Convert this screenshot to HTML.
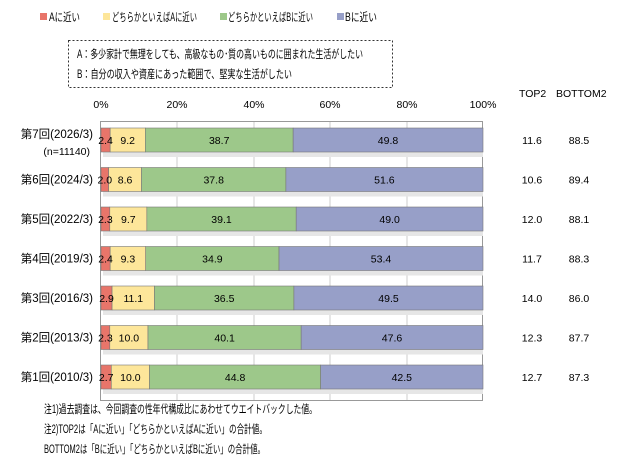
<!DOCTYPE html>
<html><head><meta charset="utf-8"><style>
body{margin:0;background:#fff;}
svg text{font-family:"Liberation Sans","Noto Sans CJK JP",sans-serif;font-size:10.5px;fill:#000;}
svg text.j{font-size:11.5px;}
.r rect.a{fill:#e8756a}.r rect.b{fill:#fde69a}.r rect.c{fill:#9dc88a}.r rect.d{fill:#979fc8}
.r rect{stroke:#777;stroke-width:0.6}
.r rect.s{fill:#e6e6e6;stroke:none}
</style></head><body>
<svg width="620" height="460" xmlns="http://www.w3.org/2000/svg">
<rect width="620" height="460" fill="#fff"/>
<rect x="40" y="13" width="7" height="7" fill="#e8756a"/>
<text class="j" x="49" y="21" textLength="31" lengthAdjust="spacingAndGlyphs">Aに近い</text>
<rect x="103" y="13" width="7" height="7" fill="#fde69a"/>
<text class="j" x="112" y="21" textLength="85" lengthAdjust="spacingAndGlyphs">どちらかといえばAに近い</text>
<rect x="220" y="13" width="7" height="7" fill="#9dc88a"/>
<text class="j" x="228" y="21" textLength="85" lengthAdjust="spacingAndGlyphs">どちらかといえばBに近い</text>
<rect x="337" y="13" width="7" height="7" fill="#979fc8"/>
<text class="j" x="345" y="21" textLength="32" lengthAdjust="spacingAndGlyphs">Bに近い</text>
<rect x="68.5" y="40.5" width="324" height="47" fill="none" stroke="#333" stroke-dasharray="2,2"/>
<text class="j" x="77" y="58" textLength="286" lengthAdjust="spacingAndGlyphs">A：多少家計で無理をしても、高級なもの･質の高いものに囲まれた生活がしたい</text>
<text class="j" x="77" y="78" textLength="215" lengthAdjust="spacingAndGlyphs">B：自分の収入や資産にあった範囲で、堅実な生活がしたい</text>
<text x="519" y="97">TOP2</text>
<text x="556" y="97">BOTTOM2</text>
<g text-anchor="middle">
<text x="101" y="108">0%</text><text x="177" y="108">20%</text><text x="254" y="108">40%</text><text x="330" y="108">60%</text><text x="407" y="108">80%</text><text x="483" y="108">100%</text>
</g>
<rect x="100.5" y="121.5" width="382" height="279" fill="#fff" stroke="#999"/>
<g stroke="#ccc">
<line x1="177" y1="122" x2="177" y2="400"/><line x1="254" y1="122" x2="254" y2="400"/><line x1="330" y1="122" x2="330" y2="400"/><line x1="407" y1="122" x2="407" y2="400"/>
</g>

<g class="r" transform="translate(0,140)">
<rect class="s" x="103" y="12" width="380" height="5"/>
<rect class="a" x="101" y="-12" width="9.17" height="24"/><rect class="b" x="110.17" y="-12" width="35.14" height="24"/><rect class="c" x="145.31" y="-12" width="147.84" height="24"/><rect class="d" x="293.15" y="-12" width="189.85" height="24"/>
<g text-anchor="middle"><text x="105.6" y="4">2.4</text><text x="127.7" y="4">9.2</text><text x="219.2" y="4">38.7</text><text x="388" y="4">49.8</text>
<text x="532" y="4">11.6</text><text x="579" y="4">88.5</text></g>
<text class="j" x="93" y="-2" text-anchor="end">第7回(2026/3)</text><text x="90" y="15" text-anchor="end">(n=11140)</text>
</g>
<g class="r" transform="translate(0,179.5)">
<rect class="s" x="103" y="12" width="380" height="5"/>
<rect class="a" x="101" y="-12" width="7.64" height="24"/><rect class="b" x="108.64" y="-12" width="32.85" height="24"/><rect class="c" x="141.49" y="-12" width="144.4" height="24"/><rect class="d" x="285.89" y="-12" width="197.11" height="24"/>
<g text-anchor="middle"><text x="104.8" y="4">2.0</text><text x="125.1" y="4">8.6</text><text x="213.7" y="4">37.8</text><text x="384.4" y="4">51.6</text>
<text x="532" y="4">10.6</text><text x="579" y="4">89.4</text></g>
<text class="j" x="93" y="4" text-anchor="end">第6回(2024/3)</text>
</g>
<g class="r" transform="translate(0,219)">
<rect class="s" x="103" y="12" width="380" height="5"/>
<rect class="a" x="101" y="-12" width="8.79" height="24"/><rect class="b" x="109.79" y="-12" width="37.05" height="24"/><rect class="c" x="146.84" y="-12" width="149.36" height="24"/><rect class="d" x="296.2" y="-12" width="186.8" height="24"/>
<g text-anchor="middle"><text x="105.4" y="4">2.3</text><text x="128.3" y="4">9.7</text><text x="221.5" y="4">39.1</text><text x="389.6" y="4">49.0</text>
<text x="532" y="4">12.0</text><text x="579" y="4">88.1</text></g>
<text class="j" x="93" y="4" text-anchor="end">第5回(2022/3)</text>
</g>
<g class="r" transform="translate(0,258.5)">
<rect class="s" x="103" y="12" width="380" height="5"/>
<rect class="a" x="101" y="-12" width="9.17" height="24"/><rect class="b" x="110.17" y="-12" width="35.53" height="24"/><rect class="c" x="145.7" y="-12" width="133.32" height="24"/><rect class="d" x="279.02" y="-12" width="203.98" height="24"/>
<g text-anchor="middle"><text x="105.6" y="4">2.4</text><text x="127.9" y="4">9.3</text><text x="212.4" y="4">34.9</text><text x="381" y="4">53.4</text>
<text x="532" y="4">11.7</text><text x="579" y="4">88.3</text></g>
<text class="j" x="93" y="4" text-anchor="end">第4回(2019/3)</text>
</g>
<g class="r" transform="translate(0,298)">
<rect class="s" x="103" y="12" width="380" height="5"/>
<rect class="a" x="101" y="-12" width="11.08" height="24"/><rect class="b" x="112.08" y="-12" width="42.4" height="24"/><rect class="c" x="154.48" y="-12" width="139.43" height="24"/><rect class="d" x="293.91" y="-12" width="189.09" height="24"/>
<g text-anchor="middle"><text x="106.5" y="4">2.9</text><text x="133.3" y="4">11.1</text><text x="224.2" y="4">36.5</text><text x="388.5" y="4">49.5</text>
<text x="532" y="4">14.0</text><text x="579" y="4">86.0</text></g>
<text class="j" x="93" y="4" text-anchor="end">第3回(2016/3)</text>
</g>
<g class="r" transform="translate(0,337.5)">
<rect class="s" x="103" y="12" width="380" height="5"/>
<rect class="a" x="101" y="-12" width="8.79" height="24"/><rect class="b" x="109.79" y="-12" width="38.2" height="24"/><rect class="c" x="147.99" y="-12" width="153.18" height="24"/><rect class="d" x="301.17" y="-12" width="181.83" height="24"/>
<g text-anchor="middle"><text x="105.4" y="4">2.3</text><text x="128.9" y="4">10.0</text><text x="224.6" y="4">40.1</text><text x="392" y="4">47.6</text>
<text x="532" y="4">12.3</text><text x="579" y="4">87.7</text></g>
<text class="j" x="93" y="4" text-anchor="end">第2回(2013/3)</text>
</g>
<g class="r" transform="translate(0,377)">
<rect class="s" x="103" y="12" width="380" height="5"/>
<rect class="a" x="101" y="-12" width="10.31" height="24"/><rect class="b" x="111.31" y="-12" width="38.2" height="24"/><rect class="c" x="149.51" y="-12" width="171.14" height="24"/><rect class="d" x="320.65" y="-12" width="162.35" height="24"/>
<g text-anchor="middle"><text x="106.2" y="4">2.7</text><text x="130.4" y="4">10.0</text><text x="235.1" y="4">44.8</text><text x="401.8" y="4">42.5</text>
<text x="532" y="4">12.7</text><text x="579" y="4">87.3</text></g>
<text class="j" x="93" y="4" text-anchor="end">第1回(2010/3)</text>
</g>

<text class="j" x="44" y="413" textLength="273" lengthAdjust="spacingAndGlyphs">注1)過去調査は、今回調査の性年代構成比にあわせてウエイトバックした値。</text>
<text class="j" x="44" y="433" textLength="223" lengthAdjust="spacingAndGlyphs">注2)TOP2は「Aに近い」「どちらかといえばAに近い」の合計値。</text>
<text class="j" x="44" y="453" textLength="221" lengthAdjust="spacingAndGlyphs">BOTTOM2は「Bに近い」「どちらかといえばBに近い」の合計値。</text>
</svg>
</body></html>
